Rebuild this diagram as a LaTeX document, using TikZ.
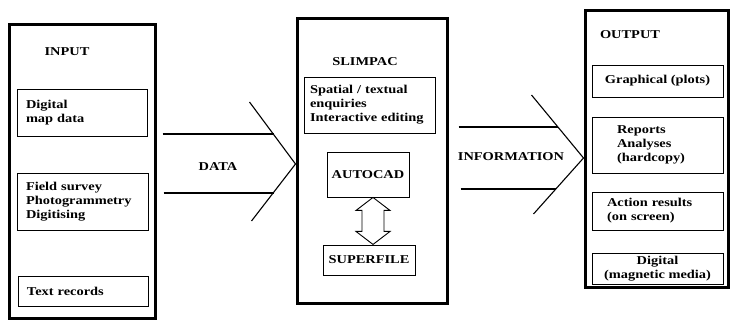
\documentclass[tikz,border=0pt]{standalone}
\usepackage{fontspec}
\newfontfamily\boxfont[FakeStretch=1.2]{Liberation Serif Bold}
\hyphenpenalty=10000
\usetikzlibrary{calc}
\begin{document}
\begin{tikzpicture}[x=1pt,y=-1pt,
	every node/.style={font=\boxfont\fontsize{12}{14}\selectfont},
	panel/.style={draw,line width=3pt,inner sep=0pt},
	item/.style={draw,line width=0.9pt,inner ysep=1pt,align=left},
	flow/.style={line width=1.1pt}]
	\useasboundingbox (0,0) rectangle (730,320);
	\node[panel,minimum width=146,minimum height=293] (input) at (82,171.5) {};
	\node[panel,minimum width=150,minimum height=284] (slimpac) at (372,161) {};
	\node[panel,minimum width=143,minimum height=276] (output) at (656.5,149) {};
	\node (inputlbl) at (67,52) {INPUT};
	\node (slimpaclbl) at (365,62) {SLIMPAC};
	\node (outputlbl) at (630,35) {OUTPUT};
	\node[item,inner xsep=9pt,text width=112pt,minimum height=47] (digmap) at (82,112.5) {Digital\\map data};
	\node[item,inner xsep=9pt,text width=113pt,minimum height=57] (field) at (82.5,201.5) {Field survey\\Photogrammetry\\Digitising};
	\node[item,inner xsep=9pt,text width=112pt,minimum height=30] (textrec) at (83,291) {Text records};
	\node[item,inner xsep=6pt,text width=119pt,minimum height=56] (spatial) at (369.5,105) {Spatial / textual\\enquiries\\Interactive editing};
	\node[item,minimum width=82,minimum height=45] (autocad) at (368,174.5) {AUTOCAD};
	\node[item,minimum width=92,minimum height=30] (superfile) at (369,260) {SUPERFILE};
	\node[item,minimum width=131,minimum height=32] (graph) at (657.5,81) {Graphical (plots)};
	\node[item,inner xsep=25pt,text width=81pt,minimum height=56] (reports) at (657.5,145) {Reports\\Analyses\\(hardcopy)};
	\node[item,inner xsep=15pt,text width=101pt,minimum height=38] (action) at (657.5,211) {Action results\\(on screen)};
	\node[item,align=center,minimum width=131,minimum height=31] (digout) at (657.5,268.5) {Digital\\(magnetic media)};
	\draw[line width=0.9pt] ($(autocad.south)+(5,0)$) -- ++(-17,13) -- ++(6,0) -- ++(0,21) -- ++(-6,0) -- ++(17,13) -- ++(17,-13) -- ++(-6,0) -- ++(0,-21) -- ++(6,0) -- cycle;
	\coordinate (dtip) at ([yshift=-3pt]slimpac.west);
	\coordinate (itip) at ([yshift=-9pt]output.west);
	\draw[flow] (dtip) +(-46,-62) -- (dtip) -- +(-44,57);
	\draw[flow] ($(input.east |- dtip)+(6,-30)$) -- ($(dtip)+(-22,-30)$);
	\draw[flow] ($(input.east |- dtip)+(7,29)$) -- ($(dtip)+(-22,29)$);
	\draw[flow] (itip) +(-52,-63) -- (itip) -- +(-50,56);
	\draw[flow] ($(slimpac.east |- itip)+(10,-31)$) -- ($(itip)+(-26,-31)$);
	\draw[flow] ($(slimpac.east |- itip)+(12,31)$) -- ($(itip)+(-28,31)$);
	\node (datalbl) at (218,167) {DATA};
	\node (infolbl) at (511,157) {INFORMATION};
\end{tikzpicture}
\end{document}
